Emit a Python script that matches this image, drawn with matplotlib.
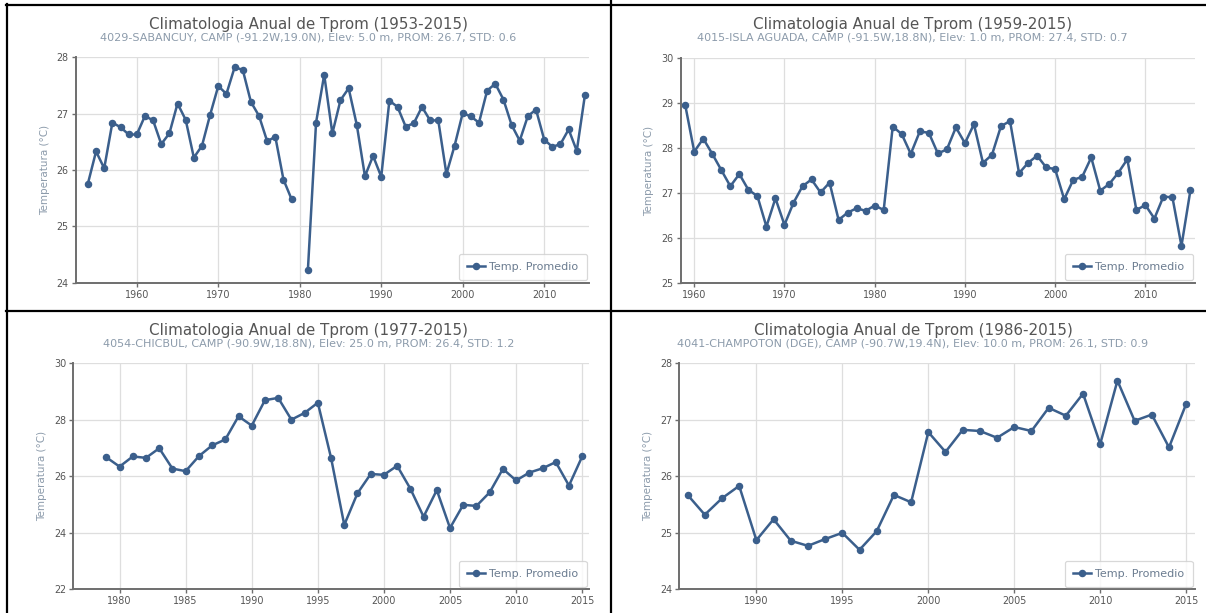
import numpy as np
import matplotlib
matplotlib.use("Agg")
import matplotlib.pyplot as plt
from matplotlib.lines import Line2D

# ---------------- data ----------------
years1 = list(range(1954, 2016))
temp1 = [25.76, 26.33, 26.03, 26.84, 26.76, 26.63, 26.63, 26.96, 26.88, 26.46,
         26.65, 27.18, 26.89, 26.22, 26.43, 26.98, 27.49, 27.35, 27.82, 27.78,
         27.21, 26.96, 26.51, 26.59, 25.83, 25.48, np.nan, 24.23, 26.84, 27.69,
         26.65, 27.24, 27.45, 26.80, 25.89, 26.25, 25.88, 27.23, 27.12, 26.77,
         26.83, 27.12, 26.88, 26.88, 25.93, 26.43, 27.01, 26.95, 26.84, 27.41,
         27.53, 27.25, 26.80, 26.52, 26.96, 27.07, 26.54, 26.41, 26.46, 26.72,
         26.34, 27.33]

years2 = list(range(1959, 2016))
temp2 = [28.96, 27.92, 28.21, 27.87, 27.51, 27.15, 27.42, 27.07, 26.93, 26.25,
         26.88, 26.29, 26.78, 27.15, 27.30, 27.01, 27.23, 26.40, 26.56, 26.66,
         26.60, 26.72, 26.62, 28.48, 28.31, 27.87, 28.37, 28.34, 27.88, 27.97,
         28.46, 28.11, 28.53, 27.67, 27.85, 28.49, 28.60, 27.44, 27.67, 27.83,
         27.57, 27.53, 26.86, 27.29, 27.36, 27.79, 27.05, 27.20, 27.45, 27.75,
         26.62, 26.73, 26.43, 26.92, 26.90, 25.82, 27.07]

years3 = list(range(1979, 2016))
temp3 = [26.67, 26.34, 26.70, 26.65, 26.99, 26.27, 26.18, 26.71, 27.09, 27.30,
         28.12, 27.79, 28.69, 28.77, 28.00, 28.24, 28.60, 26.65, 24.28, 25.40,
         26.08, 26.05, 26.37, 25.56, 24.57, 25.51, 24.17, 24.99, 24.95, 25.43,
         26.26, 25.85, 26.13, 26.28, 26.50, 25.67, 26.70]

years4 = list(range(1986, 2016))
temp4 = [25.67, 25.32, 25.61, 25.83, 24.87, 25.24, 24.86, 24.77, 24.89, 25.00,
         24.70, 25.03, 25.67, 25.54, 26.78, 26.43, 26.82, 26.80, 26.68, 26.87,
         26.80, 27.21, 27.07, 27.46, 26.57, 27.69, 26.98, 27.09, 26.51, 27.28]

titles = ["Climatologia Anual de Tprom (1953-2015)",
          "Climatologia Anual de Tprom (1959-2015)",
          "Climatologia Anual de Tprom (1977-2015)",
          "Climatologia Anual de Tprom (1986-2015)"]
subtitles = ["4029-SABANCUY, CAMP (-91.2W,19.0N), Elev: 5.0 m, PROM: 26.7, STD: 0.6",
             "4015-ISLA AGUADA, CAMP (-91.5W,18.8N), Elev: 1.0 m, PROM: 27.4, STD: 0.7",
             "4054-CHICBUL, CAMP (-90.9W,18.8N), Elev: 25.0 m, PROM: 26.4, STD: 1.2",
             "4041-CHAMPOTON (DGE), CAMP (-90.7W,19.4N), Elev: 10.0 m, PROM: 26.1, STD: 0.9"]
xlims = [(1952.5, 2015.5), (1958.5, 2015.5), (1976.5, 2015.5), (1985.5, 2015.5)]
ylims = [(24, 28), (25, 30), (22, 30), (24, 28)]
xticks = [list(range(1960, 2011, 10)), list(range(1960, 2011, 10)),
          list(range(1980, 2016, 5)), list(range(1990, 2016, 5))]
yticks = [list(range(24, 29, 1)), list(range(25, 31, 1)),
          list(range(22, 31, 2)), list(range(24, 29, 1))]
ylabel = "Temperatura (°C)"
legend_label = "Temp. Promedio"

series = [(years1, temp1), (years2, temp2), (years3, temp3), (years4, temp4)]

# ---------------- layout ----------------
W, H = 1206, 613
fig = plt.figure(figsize=(W / 100, H / 100), dpi=100)
fig.patch.set_facecolor("white")

# axes boxes in pixels: left, top, right, bottom
boxes = [(75.7, 57.3, 589.0, 282.7),
         (680.7, 58.3, 1195.0, 282.7),
         (73.3, 363.1, 588.8, 589.4),
         (679.0, 363.1, 1194.8, 589.4)]
title_pos = [(308.5, 24.0), (912.5, 24.0), (308.5, 330.0), (913.0, 330.0)]

line_color = "#3b5f8c"
for i in range(4):
    l, t, r, b = boxes[i]
    ax = fig.add_axes([l / W, 1 - b / H, (r - l) / W, (b - t) / H])
    x, y = series[i]
    ax.plot(x, y, color=line_color, lw=1.8, marker="o", ms=4.4,
            mfc=line_color, mec=line_color, label=legend_label)
    ax.set_xlim(*xlims[i])
    ax.set_ylim(*ylims[i])
    ax.set_xticks(xticks[i])
    ax.set_yticks(yticks[i])
    ax.grid(True, color="#dedede", lw=0.9)
    ax.set_axisbelow(True)
    for s in ["top", "right"]:
        ax.spines[s].set_visible(False)
    for s in ["left", "bottom"]:
        ax.spines[s].set_color("#6e6e6e")
        ax.spines[s].set_linewidth(1.4)
    ax.tick_params(axis="both", direction="out", length=3, width=1,
                   color="#6e6e6e", labelsize=6.9, labelcolor="#555555", pad=2)
    ax.set_ylabel(ylabel, fontsize=7.5, color="#8c9bab", labelpad=5)
    leg = ax.legend(loc="lower right", fontsize=8, frameon=True,
                    borderaxespad=0.2, handlelength=1.6, handletextpad=0.4,
                    borderpad=0.75)
    leg.get_frame().set_edgecolor("#cfcfcf")
    leg.get_frame().set_linewidth(0.9)
    for txt in leg.get_texts():
        txt.set_color("#6b7c90")
    tx, ty = title_pos[i]
    fig.text(tx / W, 1 - ty / H, titles[i], ha="center", va="center",
             fontsize=10.9, color="#555555")
    fig.text(tx / W, 1 - (ty + 13.5) / H, subtitles[i], ha="center", va="center",
             fontsize=8.0, color="#8c9bab")

# table-like borders
def hline(y, x0, x1, lw=1.6):
    fig.add_artist(Line2D([x0 / W, x1 / W], [1 - y / H, 1 - y / H],
                          transform=fig.transFigure, color="black", lw=lw))

def vline(x, y0, y1, lw=1.6):
    fig.add_artist(Line2D([x / W, x / W], [1 - y0 / H, 1 - y1 / H],
                          transform=fig.transFigure, color="black", lw=lw))

hline(4.7, 6.0, W)
vline(6.8, 4.0, H)
vline(611.0, 0.0, H)
hline(311.0, 6.0, W)

fig.savefig("out.png", dpi=100, facecolor="white")
